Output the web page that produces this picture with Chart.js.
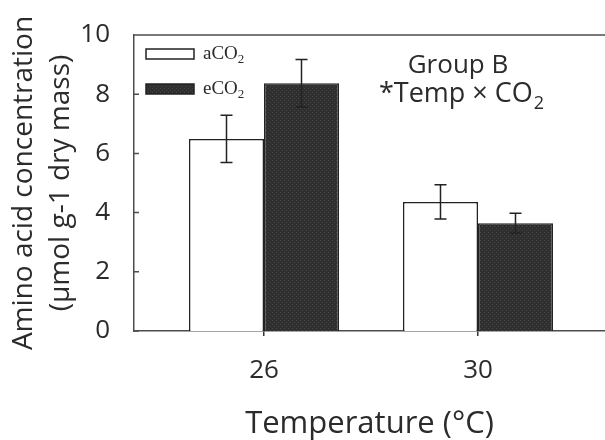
<!DOCTYPE html>
<html>
<head>
<meta charset="utf-8">
<script src="https://cdn.jsdelivr.net/npm/chart.js@4"></script>
<style>
  html, body { margin: 0; padding: 0; background: #fff; }
  #wrap { width: 605px; height: 440px; }
</style>
</head>
<body>
<div id="wrap"><canvas id="chart"></canvas></div>
<script>
// data
const temperatures = [26, 30];
const aCO2 = [6.49, 4.36];
const aCO2Err = [0.80, 0.58];
const eCO2 = [8.37, 3.64];
const eCO2Err = [0.80, 0.34];
const yTicks = [0, 2, 4, 6, 8, 10];
const legendLabels = ['aCO', 'eCO'];

const ink = '#2b2b2b';
const axisColor = '#4d4d4d';

// stippled dark fill like the original
function darkPattern() {
    const c = document.createElement('canvas');
    c.width = 4; c.height = 4;
    const g = c.getContext('2d');
    g.fillStyle = '#2f2f2f';
    g.fillRect(0, 0, 4, 4);
    g.fillStyle = '#454545';
    g.fillRect(0, 0, 1, 1);
    g.fillRect(2, 2, 1, 1);
    return g.createPattern(c, 'repeat');
}
const darkFill = darkPattern();

// error bars on top of each bar
const errorBars = {
    id: 'errorBars',
    afterDatasetsDraw(chart) {
        const ctx = chart.ctx;
        const y = chart.scales.y;
        const errs = [aCO2Err, eCO2Err];
        ctx.save();
        ctx.strokeStyle = '#222';
        ctx.lineWidth = 1.5;
        chart.data.datasets.forEach((ds, i) => {
            chart.getDatasetMeta(i).data.forEach((bar, j) => {
                const v = ds.data[j], e = errs[i][j];
                const top = y.getPixelForValue(v + e), bot = y.getPixelForValue(v - e);
                ctx.beginPath();
                ctx.moveTo(bar.x, top); ctx.lineTo(bar.x, bot);
                ctx.moveTo(bar.x - 6, top); ctx.lineTo(bar.x + 6, top);
                ctx.moveTo(bar.x - 6, bot); ctx.lineTo(bar.x + 6, bot);
                ctx.stroke();
            });
        });
        ctx.restore();
    }
};

// frame line on top, inward y ticks, legend and annotation text
const decorations = {
    id: 'decorations',
    afterDraw(chart) {
        const ctx = chart.ctx;
        const a = chart.chartArea;
        const y = chart.scales.y;
        ctx.save();
        ctx.strokeStyle = axisColor;
        ctx.lineWidth = 1.5;
        ctx.beginPath();
        ctx.moveTo(a.left, a.top); ctx.lineTo(a.right, a.top);
        yTicks.forEach(t => {
            const py = y.getPixelForValue(t);
            ctx.moveTo(a.left, py); ctx.lineTo(a.left + 5, py);
        });
        ctx.stroke();

        // legend
        chart.data.datasets.forEach((ds, i) => {
            const bx = a.left + 12, by = a.top + 14 + i * 35;
            ctx.fillStyle = ds.backgroundColor;
            ctx.fillRect(bx, by, 48, 10);
            ctx.strokeStyle = '#222';
            ctx.lineWidth = 1.5;
            ctx.strokeRect(bx, by, 48, 10);
            ctx.fillStyle = ink;
            ctx.textBaseline = 'alphabetic';
            ctx.textAlign = 'left';
            ctx.font = '19px "Liberation Serif"';
            ctx.fillText(legendLabels[i], bx + 57, by + 10);
            const w = ctx.measureText(legendLabels[i]).width;
            ctx.font = '13px "Liberation Serif"';
            ctx.fillText('2', bx + 57 + w, by + 14);
        });

        // annotation
        ctx.fillStyle = ink;
        ctx.textBaseline = 'alphabetic';
        ctx.textAlign = 'center';
        ctx.font = '26px "Open Sans"';
        ctx.fillText('Group B', 458, 73);
        ctx.textAlign = 'left';
        const main = '*Temp \u00d7 CO';
        ctx.font = '27px "Open Sans"';
        const mw = ctx.measureText(main).width;
        ctx.font = '18px "Open Sans"';
        const sw = ctx.measureText('2').width;
        const x0 = 461 - (mw + sw) / 2;
        ctx.font = '27px "Open Sans"';
        ctx.fillText(main, x0, 102);
        ctx.font = '18px "Open Sans"';
        ctx.fillText('2', x0 + mw + 1, 109);
        ctx.restore();
    }
};

new Chart(document.getElementById('chart'), {
    type: 'bar',
    data: {
        labels: temperatures,
        datasets: [
            { label: 'aCO2', data: aCO2, backgroundColor: '#ffffff', borderColor: '#222', borderWidth: 1.5 },
            { label: 'eCO2', data: eCO2, backgroundColor: darkFill, borderColor: '#222', borderWidth: 1.5 }
        ]
    },
    options: {
        responsive: true,
        maintainAspectRatio: false,
        animation: false,
        layout: { padding: { top: 35, right: 0, left: 0, bottom: 0 } },
        categoryPercentage: 0.701,
        barPercentage: 1.0,
        plugins: { legend: { display: false }, tooltip: { enabled: false } },
        scales: {
            x: {
                type: 'linear',
                min: 23.57,
                max: 32.374,
                offset: false,
                afterBuildTicks: s => { s.ticks = temperatures.map(v => ({ value: v })); },
                afterFit: s => { s.height = 109; },
                grid: { display: true, offset: false, drawOnChartArea: false, drawTicks: true, tickLength: 5, color: '#333', lineWidth: 1.5 },
                border: { color: axisColor, width: 1.5 },
                ticks: { color: ink, padding: 19, font: { family: 'Open Sans', size: 26 } },
                title: { display: true, text: 'Temperature (\u00b0C)', color: ink, padding: { top: 0, bottom: 0 },
                         font: { family: 'Open Sans', size: 31, lineHeight: 1.0 } }
            },
            y: {
                min: 0,
                max: 10,
                afterBuildTicks: s => { s.ticks = yTicks.map(v => ({ value: v })); },
                afterFit: s => { s.width = 134; },
                grid: { display: false },
                border: { color: axisColor, width: 1.5 },
                ticks: { color: ink, padding: 16, font: { family: 'Open Sans', size: 26 } },
                title: { display: true, text: ['Amino acid concentration', '(\u03bcmol g-1 dry mass)'], color: ink,
                         padding: { top: 5, bottom: 0 }, font: { family: 'Open Sans', size: 28, lineHeight: 1.33 } }
            }
        }
    },
    plugins: [errorBars, decorations]
});
</script>
</body>
</html>
